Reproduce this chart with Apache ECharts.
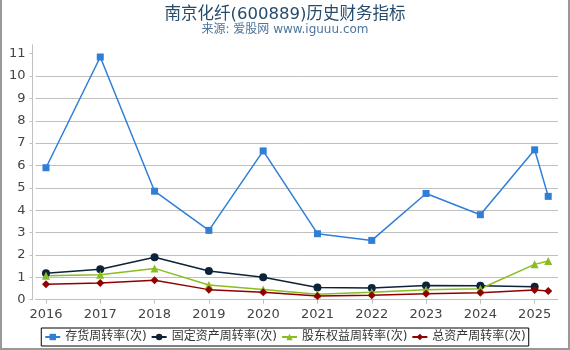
<!DOCTYPE html>
<html>
<head>
<meta charset="utf-8">
<script src="https://cdn.jsdelivr.net/npm/echarts@6/dist/echarts.min.js"></script>
<style>
  html, body { margin: 0; padding: 0; background: #fff; }
  #chart { width: 570px; height: 350px; }
</style>
</head>
<body>
<div id="chart"></div>
<script>
// 报告期 (2025.25 = 2025一季度)
const periods = [2016, 2017, 2018, 2019, 2020, 2021, 2022, 2023, 2024, 2025, 2025.25];
const yearTicks = [2016, 2017, 2018, 2019, 2020, 2021, 2022, 2023, 2024, 2025];
const yTicks = [0, 1, 2, 3, 4, 5, 6, 7, 8, 9, 10, 11];

const inventoryTurnover = [5.9, 10.85, 4.85, 3.1, 6.65, 2.95, 2.65, 4.75, 3.8, 6.7, 4.62];
const fixedAssetTurnover = [1.18, 1.36, 1.9, 1.28, 1.0, 0.55, 0.52, 0.63, 0.62, 0.58, null];
const equityTurnover = [1.07, 1.12, 1.4, 0.66, 0.46, 0.24, 0.33, 0.45, 0.49, 1.58, 1.73];
const totalAssetTurnover = [0.69, 0.75, 0.87, 0.45, 0.33, 0.17, 0.2, 0.27, 0.31, 0.43, 0.39];

const FONT = 'DejaVu Sans, Noto Sans CJK SC, sans-serif';

function pairs(vals) {
    const out = [];
    vals.forEach((v, i) => { if (v != null) out.push([periods[i], v]); });
    return out;
}

function lineSeries(name, vals, color, symbol, size) {
    return {
        name: name,
        type: 'line',
        data: pairs(vals),
        symbol: symbol,
        symbolSize: size,
        lineStyle: { color: color, width: 1.5 },
        itemStyle: { color: color },
        emphasis: { disabled: true }
    };
}

const myChart = echarts.init(document.getElementById('chart'));
myChart.setOption({
    backgroundColor: '#ffffff',
    animation: false,
    title: [
        { text: '南京化纤(600889)历史财务指标', left: 'center', top: 1,
          textStyle: { fontFamily: FONT, fontSize: 16.5, fontWeight: 'normal', color: '#274b6d' } },
        { text: '来源: 爱股网 www.iguuu.com', left: 'center', top: 19,
          textStyle: { fontFamily: FONT, fontSize: 12, fontWeight: 'normal', color: '#4d759e' } }
    ],
    legend: {
        top: 328, left: 'center',
        borderColor: '#000', borderWidth: 1, padding: [3, 3],
        itemGap: 4, itemWidth: 15, itemHeight: 8,
        textStyle: { fontFamily: FONT, fontSize: 12, color: '#333' }
    },
    grid: { left: 35.5, right: 12, top: 44.7, bottom: 50.3, containLabel: false, outerBoundsMode: 'none' },
    xAxis: {
        type: 'value', min: 2015.807, max: 2025.43, offset: 4.3,
        axisLine: { show: true, lineStyle: { color: '#c0c0c0' } },
        axisTick: { show: true, length: 4, customValues: yearTicks, lineStyle: { color: '#c0c0c0' } },
        axisLabel: { customValues: yearTicks, formatter: v => String(v), margin: 4,
                     fontFamily: FONT, fontSize: 13, color: '#444' },
        splitLine: { show: false }
    },
    yAxis: {
        type: 'value', min: 0, max: 11.4, interval: 1, offset: 3,
        axisLine: { show: true, lineStyle: { color: '#c0c0c0' } },
        axisTick: { show: true, length: 3, customValues: yTicks, lineStyle: { color: '#c0c0c0' } },
        axisLabel: { customValues: yTicks, margin: 7, fontFamily: FONT, fontSize: 13, color: '#444' },
        splitLine: { show: true, showMaxLine: false, lineStyle: { color: '#c0c0c0' } }
    },
    series: [
        lineSeries('存货周转率(次)', inventoryTurnover, '#2f7ed8', 'rect', 7),
        lineSeries('固定资产周转率(次)', fixedAssetTurnover, '#0d233a', 'circle', 8),
        lineSeries('股东权益周转率(次)', equityTurnover, '#8bbc21', 'triangle', 8),
        lineSeries('总资产周转率(次)', totalAssetTurnover, '#910000', 'diamond', 8)
    ],
    graphic: [
        { type: 'line', shape: { x1: 1, y1: 0, x2: 1, y2: 350 }, style: { stroke: '#999', lineWidth: 2 } },
        { type: 'line', shape: { x1: 569, y1: 0, x2: 569, y2: 350 }, style: { stroke: '#999', lineWidth: 2 } },
        { type: 'line', shape: { x1: 0, y1: 349, x2: 570, y2: 349 }, style: { stroke: '#999', lineWidth: 2 } }
    ]
});

window.addEventListener('resize', () => myChart.resize());
</script>
</body>
</html>
